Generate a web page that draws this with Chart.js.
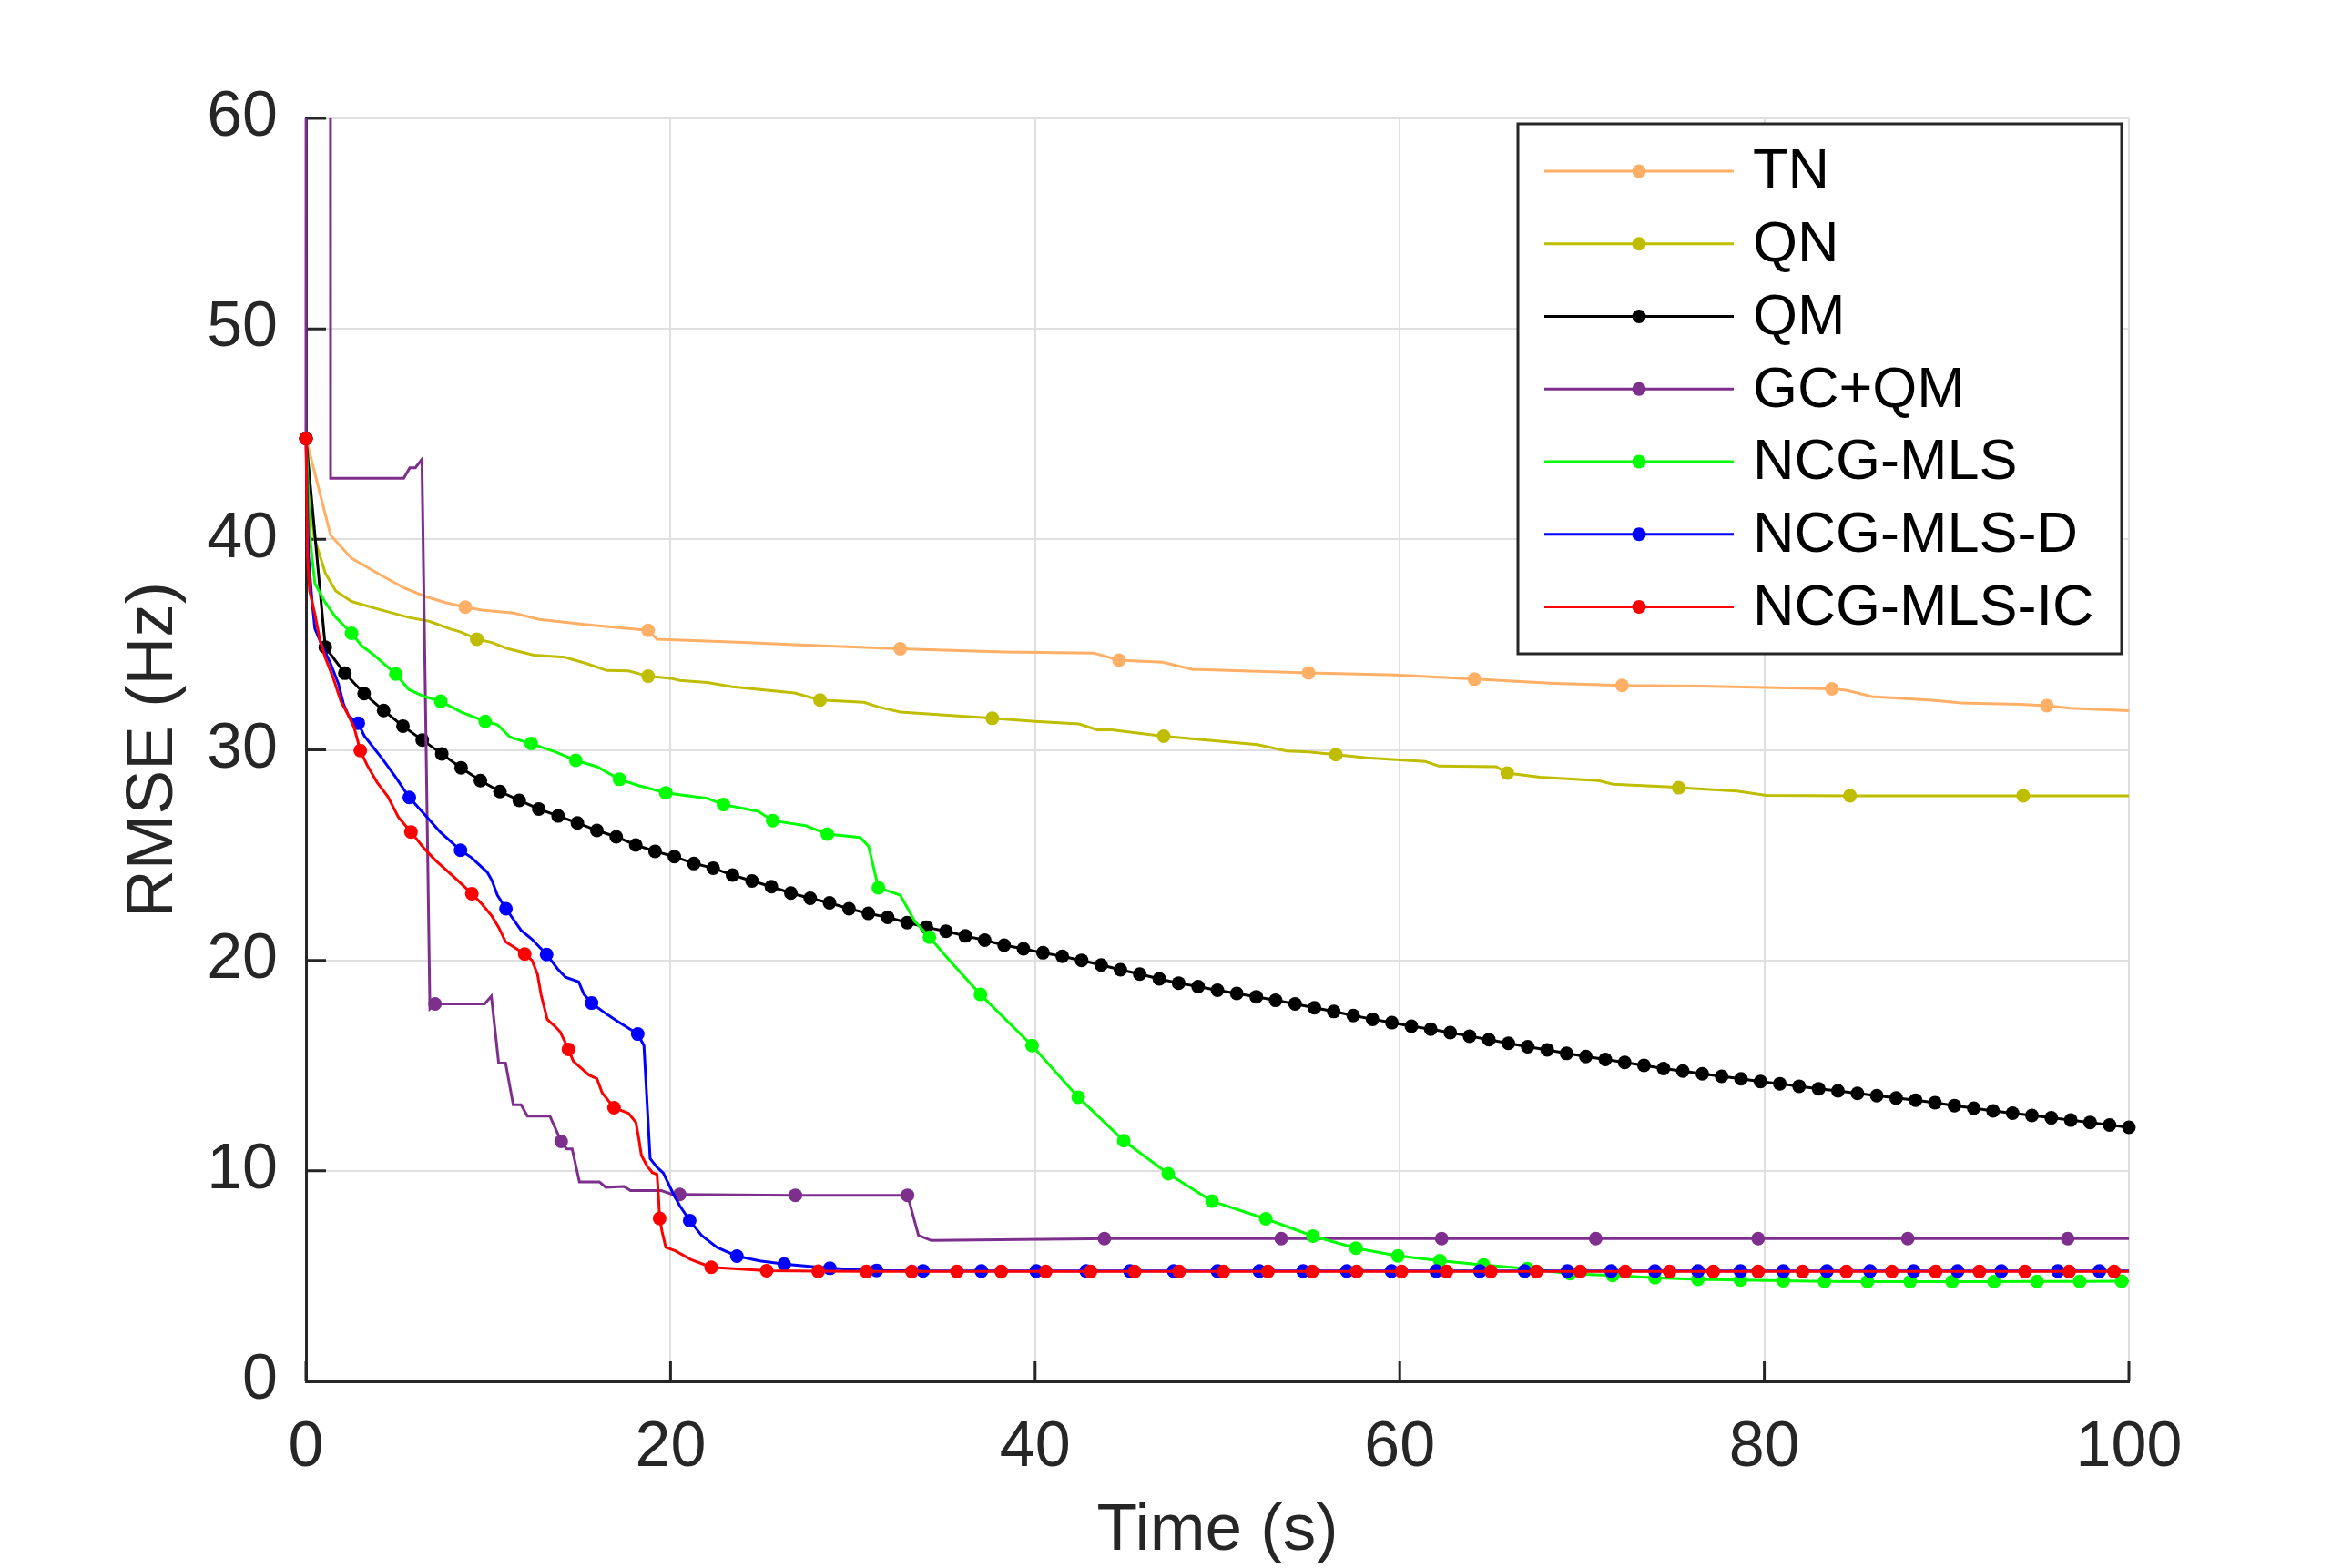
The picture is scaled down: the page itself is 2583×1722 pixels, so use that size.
<!DOCTYPE html>
<html>
<head>
<meta charset="utf-8">
<script src="https://cdn.jsdelivr.net/npm/chart.js@4.4.1/dist/chart.umd.min.js"></script>
<style>
html,body{margin:0;padding:0;background:#fff;}
#wrap{width:2583px;height:1722px;}
</style>
</head>
<body>
<div id="wrap"><canvas id="c" width="2583" height="1722"></canvas></div>
<script>
// ---------------- DATA ----------------
const seriesNames = ['TN','QN','QM','GC+QM','NCG-MLS','NCG-MLS-D','NCG-MLS-IC'];
const xTicks = [0,20,40,60,80,100];
const yTicks = [0,10,20,30,40,50,60];

// TN
const tnLine = [[0,44.8],[1.35,40.2],[2.5,39.1],[3.9,38.4],[5.36,37.7],[6.5,37.3],[7.65,37.0],[9.66,36.64],[11.4,36.5],[12.8,36.2],[15.4,35.95],[19.25,35.26],[24.0,35.1],[26.8,35.0],[38.3,34.65],[43.2,34.6],[47.0,34.16],[48.6,33.83],[59.8,33.56],[68.5,33.16],[76.5,33.03],[84.5,32.83],[85.9,32.53],[89.2,32.36],[90.8,32.23],[94.0,32.16],[96.8,31.98],[100,31.86]];
const tnMarks = [[0,44.8],[8.74,36.78],[18.77,35.68],[32.6,34.8],[44.6,34.26],[55.0,33.66],[64.1,33.36],[72.2,33.06],[83.7,32.9],[95.5,32.1]];

// QN
const qnLine = [[0.2,41.96],[0.45,40.1],[1.06,38.4],[1.63,37.55],[2.5,37.05],[3.9,36.7],[5.6,36.3],[6.8,36.1],[7.9,35.75],[8.5,35.6],[10.2,35.1],[11.1,34.8],[12.5,34.5],[14.2,34.4],[15.4,34.1],[16.5,33.77],[17.7,33.75],[20.0,33.4],[20.5,33.3],[22.0,33.2],[23.4,33.0],[26.8,32.7],[30.6,32.26],[31.4,32.04],[32.6,31.8],[40.0,31.35],[42.4,31.23],[43.4,30.95],[44.2,30.95],[45.8,30.78],[49.0,30.5],[52.2,30.25],[53.8,29.95],[55.0,29.9],[58.2,29.62],[61.4,29.45],[62.15,29.23],[65.3,29.2],[67.7,28.7],[70.9,28.54],[71.7,28.37],[74.9,28.24],[78.5,28.04],[80.1,27.84],[100,27.82]];
const qnMarks = [[0,44.8],[9.37,35.26],[18.77,33.5],[28.2,32.37],[37.65,31.5],[47.05,30.65],[56.5,29.77],[65.9,28.9],[75.3,28.2],[84.7,27.82],[94.2,27.82]];

// QM (every iteration marked)
const qmT = [0,1.06,2.13,3.19,4.26,5.32,6.38,7.45,8.51,9.57,10.64,11.70,12.77,13.83,14.89,15.96,17.02,18.09,19.15,20.21,21.28,22.34,23.40,24.47,25.53,26.60,27.66,28.72,29.79,30.85,31.91,32.98,34.04,35.11,36.17,37.23,38.30,39.36,40.43,41.49,42.55,43.62,44.68,45.74,46.81,47.87,48.94,50.00,51.06,52.13,53.19,54.26,55.32,56.38,57.45,58.51,59.57,60.64,61.70,62.77,63.83,64.89,65.96,67.02,68.09,69.15,70.21,71.28,72.34,73.40,74.47,75.53,76.60,77.66,78.72,79.79,80.85,81.91,82.98,84.04,85.11,86.17,87.23,88.30,89.36,90.43,91.49,92.55,93.62,94.68,95.74,96.81,97.87,98.94,100.00];
const qmY = [44.8,34.88,33.64,32.67,31.87,31.13,30.47,29.81,29.15,28.54,28.02,27.60,27.19,26.86,26.53,26.17,25.87,25.48,25.18,24.93,24.60,24.38,24.05,23.77,23.50,23.20,22.95,22.73,22.45,22.23,22.04,21.79,21.57,21.38,21.16,20.96,20.72,20.55,20.36,20.19,20.00,19.78,19.55,19.35,19.12,18.92,18.75,18.58,18.43,18.27,18.10,17.93,17.75,17.57,17.38,17.20,17.04,16.87,16.73,16.57,16.40,16.23,16.06,15.90,15.75,15.58,15.43,15.29,15.15,15.01,14.86,14.74,14.61,14.49,14.37,14.24,14.14,14.02,13.90,13.80,13.68,13.57,13.46,13.36,13.24,13.10,12.98,12.85,12.74,12.63,12.52,12.41,12.30,12.18,12.07];

// GC+QM
const gcLine = [[0.05,200],[1.3,200],[1.35,42.9],[5.36,42.9],[5.7,43.4],[6.0,43.4],[6.36,43.8],[6.8,17.7],[9.8,17.93],[10.17,18.3],[10.57,15.12],[10.95,15.12],[11.37,13.14],[11.8,13.14],[12.15,12.6],[13.38,12.6],[14.3,11.04],[14.6,11.04],[15.0,9.47],[16.1,9.47],[16.45,9.22],[17.45,9.26],[17.8,9.06],[19.5,9.06],[20.1,8.88],[33.6,6.94],[34.3,6.69],[43.0,6.77],[100,6.78]];
const gcMarks = [[0,44.8],[7.08,17.93],[14.0,11.4],[20.5,8.88],[26.85,8.84],[33.0,8.84],[43.8,6.78],[53.5,6.78],[62.3,6.78],[70.75,6.78],[79.66,6.78],[87.87,6.78],[96.64,6.78]];

// NCG-MLS
const mlsLine = [[0.14,41.96],[0.26,39.75],[0.49,37.9],[1.06,37.0],[1.63,36.3],[3.07,34.93],[3.64,34.57],[5.64,32.87],[6.5,32.53],[8.5,31.8],[10.5,31.2],[11.2,30.6],[13.7,29.9],[15.96,29.2],[18.25,28.3],[22.0,27.7],[24.8,27.08],[27.4,26.4],[30.4,25.84],[30.86,25.43],[32.6,23.1],[33.4,21.85],[35.4,19.9],[100,4.76]];
const mlsMarks = [[0,44.8],[2.5,35.54],[4.93,33.6],[7.39,32.31],[9.83,31.35],[12.35,30.3],[14.8,29.5],[17.2,28.6],[19.74,27.96],[22.9,27.4],[25.6,26.64],[28.6,26.0],[31.4,23.45],[34.2,21.1],[37.0,18.38],[39.83,15.95],[42.36,13.5],[44.86,11.43],[47.3,9.86],[49.7,8.56],[52.65,7.72],[55.24,6.9],[57.6,6.33],[59.9,5.96],[62.2,5.73],[64.6,5.53],[67.0,5.35],[69.34,5.12],[71.68,5.03],[74.0,4.92],[76.36,4.85],[78.69,4.81],[81.04,4.78],[83.3,4.75],[85.66,4.74],[88.0,4.74],[90.3,4.74],[92.6,4.74],[94.96,4.75],[97.3,4.75],[99.6,4.76]];

// NCG-MLS-D
const mlsdLine = [[0.14,39.2],[0.34,37.0],[0.49,35.76],[0.9,34.93],[1.35,34.1],[1.78,33.14],[2.06,32.18],[2.35,31.6],[3.2,30.66],[4.2,29.56],[4.9,28.73],[6.5,26.94],[7.36,26.1],[9.08,24.88],[9.94,24.19],[10.2,23.8],[10.5,23.1],[11.8,21.43],[12.4,21.0],[13.8,19.6],[14.24,19.2],[14.96,18.98],[15.24,18.4],[16.5,17.44],[17.1,17.1],[18.54,15.95],[18.88,10.58],[19.26,10.17],[19.6,9.9],[20.1,9.0],[20.5,8.35],[21.7,6.94],[22.55,6.36],[24.9,5.72],[100,5.24]];
const mlsdMarks = [[0,44.8],[2.87,31.27],[5.67,27.74],[8.48,25.23],[10.97,22.45],[13.2,20.28],[15.67,17.97],[18.2,16.5],[21.05,7.64],[23.64,5.95],[26.24,5.57],[28.74,5.37],[31.3,5.27],[33.85,5.25],[37.05,5.24],[40.06,5.24],[42.8,5.24],[45.2,5.24],[47.6,5.24],[50.0,5.24],[52.3,5.24],[54.7,5.24],[57.1,5.24],[59.55,5.24],[62.0,5.24],[64.4,5.24],[66.85,5.24],[69.2,5.24],[71.6,5.24],[74.0,5.24],[76.36,5.24],[78.69,5.24],[81.04,5.24],[83.43,5.24],[85.8,5.24],[88.19,5.24],[90.6,5.24],[93.0,5.24],[96.1,5.24],[98.38,5.24]];

// NCG-MLS-IC
const mlsicLine = [[0.09,39.2],[0.2,37.55],[0.49,36.45],[0.77,35.2],[1.06,34.38],[1.5,33.4],[1.92,32.3],[2.35,31.6],[2.64,31.07],[3.35,29.28],[3.9,28.46],[4.5,27.77],[5.07,26.8],[6.5,25.3],[7.08,24.77],[8.2,23.9],[9.66,22.67],[10.2,22.1],[10.57,21.57],[10.95,20.88],[12.4,20.0],[12.7,19.34],[12.9,18.35],[13.24,17.19],[13.67,16.86],[13.95,16.6],[14.67,15.2],[15.1,14.88],[15.53,14.55],[15.96,14.38],[16.25,13.7],[17.7,12.73],[18.1,12.3],[18.25,11.57],[18.4,10.74],[18.7,10.25],[19.0,9.92],[19.26,9.83],[19.34,8.76],[19.54,7.1],[19.74,6.36],[20.26,6.2],[21.1,5.79],[100,5.22]];
const mlsicMarks = [[0,44.8],[2.98,29.97],[5.76,26.1],[9.1,23.17],[12.0,20.3],[14.4,15.77],[16.9,13.0],[19.4,7.74],[22.23,5.42],[25.27,5.26],[28.1,5.23],[30.74,5.22],[33.24,5.22],[35.71,5.22],[38.14,5.22],[40.58,5.22],[43.04,5.22],[45.46,5.22],[47.9,5.22],[50.33,5.22],[52.77,5.22],[55.2,5.22],[57.64,5.22],[60.1,5.22],[62.57,5.22],[65.0,5.22],[67.5,5.22],[69.9,5.22],[72.37,5.22],[74.8,5.22],[77.2,5.22],[79.66,5.22],[82.1,5.22],[84.5,5.22],[87.0,5.22],[89.4,5.22],[91.8,5.22],[94.3,5.22],[96.72,5.22],[99.19,5.22]];

// ---------------- STYLE ----------------
const colors = ['#FFB066','#BFBD00','#000000','#7E2F8E','#00FF00','#0000FF','#FF0000'];
const FONT = "'Liberation Sans', Helvetica, Arial, sans-serif";
const AX = '#262626';

function build(line, marks){
  const pts = line.map(p=>({x:p[0],y:p[1],m:false}))
    .concat(marks.map(p=>({x:p[0],y:p[1],m:true})));
  pts.sort((a,b)=>a.x-b.x);
  return pts;
}
const qmPts = qmT.map((t,i)=>[t,qmY[i]]);
const seriesData = [
  build(tnLine,tnMarks),
  build(qnLine,qnMarks),
  build([],qmPts),
  build(gcLine,gcMarks),
  build(mlsLine,mlsMarks),
  build(mlsdLine,mlsdMarks),
  build(mlsicLine,mlsicMarks)
];

const datasets = seriesNames.map((name,i)=>({
  label:name,
  data:seriesData[i],
  borderColor:colors[i],
  backgroundColor:colors[i],
  borderWidth:3,
  tension:0,
  pointRadius:ctx=> (ctx.raw && ctx.raw.m) ? 7.5 : 0,
  pointHoverRadius:ctx=> (ctx.raw && ctx.raw.m) ? 7.5 : 0,
  pointBorderWidth:0,
  pointBackgroundColor:colors[i],
  order:7-i,
  clip: name==='GC+QM' ? {left:20,top:0,right:20,bottom:20} : false
}));

const inwardTicks = {
  id:'inwardTicks',
  beforeDatasetsDraw(chart){
    const {ctx, chartArea:a, scales:{x,y}} = chart;
    ctx.save();
    ctx.strokeStyle = AX; ctx.lineWidth = 3;
    ctx.beginPath();
    xTicks.forEach(v=>{const px=x.getPixelForValue(v); ctx.moveTo(px,a.bottom); ctx.lineTo(px,a.bottom-22);});
    yTicks.forEach(v=>{const py=y.getPixelForValue(v); ctx.moveTo(a.left,py); ctx.lineTo(a.left+22,py);});
    ctx.stroke();
    ctx.restore();
  }
};

const boxLegend = {
  id:'boxLegend',
  afterDraw(chart){
    const {ctx, chartArea:a} = chart;
    const w = 663, h = 582;
    const L = a.right - 671, T = a.top + 6;
    ctx.save();
    ctx.fillStyle = '#fff';
    ctx.fillRect(L,T,w,h);
    ctx.strokeStyle = AX; ctx.lineWidth = 3;
    ctx.strokeRect(L,T,w,h);
    chart.data.datasets.forEach((ds,i)=>{
      const yy = T + 52 + i*79.75;
      ctx.strokeStyle = ds.borderColor; ctx.lineWidth = 3;
      ctx.beginPath(); ctx.moveTo(L+29,yy); ctx.lineTo(L+237,yy); ctx.stroke();
      ctx.fillStyle = ds.borderColor;
      ctx.beginPath(); ctx.arc(L+133,yy,7.5,0,Math.PI*2); ctx.fill();
      ctx.fillStyle = '#000';
      ctx.font = '63px ' + FONT;
      ctx.textBaseline = 'middle'; ctx.textAlign = 'left';
      ctx.fillText(ds.label, L+258, yy+2);
    });
    ctx.restore();
  }
};

new Chart(document.getElementById('c'), {
  type:'line',
  data:{datasets},
  options:{
    responsive:false,
    animation:false,
    devicePixelRatio:1,
    events:[],
    layout:{padding:{top:130,right:245,left:0,bottom:0}},
    plugins:{legend:{display:false},tooltip:{enabled:false}},
    scales:{
      x:{
        type:'linear', min:0, max:100,
        afterFit(s){ s.height = 205; },
        afterBuildTicks(s){ s.ticks = xTicks.map(v=>({value:v})); },
        ticks:{font:{family:FONT,size:70},color:AX,padding:32,maxRotation:0},
        grid:{color:'#DFDFDF',lineWidth:2,drawTicks:false},
        border:{display:true,color:AX,width:3},
        title:{display:true,text:'Time (s)',color:AX,font:{family:FONT,size:73,lineHeight:1},padding:{top:0,bottom:4}}
      },
      y:{
        type:'linear', min:0, max:60,
        afterFit(s){ s.width = 336; },
        afterBuildTicks(s){ s.ticks = yTicks.map(v=>({value:v})); },
        ticks:{font:{family:FONT,size:70},color:AX,padding:31},
        grid:{color:'#DFDFDF',lineWidth:2,drawTicks:false},
        border:{display:true,color:AX,width:3},
        title:{display:true,text:'RMSE (Hz)',color:AX,font:{family:FONT,size:73,lineHeight:1},padding:{top:132,bottom:0}}
      }
    }
  },
  plugins:[inwardTicks, boxLegend]
});
</script>
</body>
</html>
